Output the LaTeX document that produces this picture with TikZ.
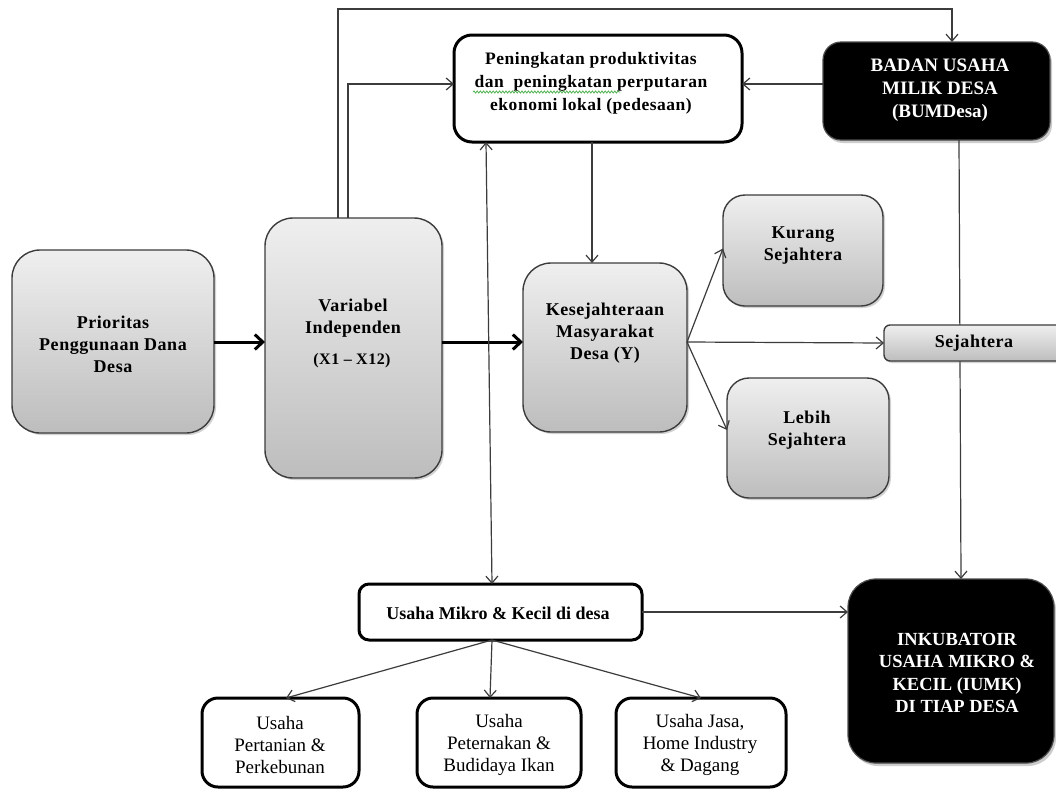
\documentclass[tikz,border=0pt]{standalone}
\usepackage{fontspec}
\setmainfont{Liberation Serif}
\newfontfamily\lsbf[LetterSpace=3,Ligatures=TeX]{Liberation Serif}
\usetikzlibrary{arrows.meta,shadows,decorations.pathmorphing,calc}
\definecolor{lg}{HTML}{3C3C3C}
\definecolor{gtop}{HTML}{EFEFEF}
\definecolor{gbot}{HTML}{BDBDBD}
\definecolor{spell}{HTML}{5CB85C}
\tikzset{
  base/.style={inner sep=0pt, outer sep=0pt},
  gbox/.style={base, draw=lg, line width=1.4pt, top color=gtop, bottom color=gbot,
     drop shadow={shadow xshift=2pt, shadow yshift=-2pt, opacity=0.35}},
  wbox/.style={base, draw=black, line width=3pt, fill=white},
  kbox/.style={base, draw=gray!60!black, line width=1.2pt, fill=black,
     drop shadow={shadow xshift=2pt, shadow yshift=-3pt, opacity=0.4}},
  btxt/.style={align=center, inner sep=0pt, font=\lsbf\bfseries\fontsize{18}{22}\selectfont},
  wtxt/.style={align=center, inner sep=0pt, text=white, font=\bfseries\fontsize{18.5}{22.5}\selectfont},
  rtxt/.style={align=center, inner sep=0pt, font=\fontsize{19}{22}\selectfont},
  conn/.style={draw=lg, line width=1.2pt},
  arr/.style={conn, -{Straight Barb[length=7pt,width=12pt]}},
  darr/.style={conn, {Straight Barb[length=7pt,width=12pt]}-{Straight Barb[length=7pt,width=12pt]}},
  fat/.style={draw=black, line width=3pt, -{Straight Barb[length=8pt,width=15pt]}},
}
\begin{document}
\begin{tikzpicture}[x=1pt,y=-1pt]
\useasboundingbox (0,0) rectangle (1056,790);
\fill[white] (0,0) rectangle (1056,790);
% helper coordinates
\coordinate (ymid) at (0,342);
\coordinate (top1) at (338,9);
\coordinate (top2) at (348,84);
\coordinate (yleb) at (0,430);
% boxes
\node[gbox, rounded corners=28pt, minimum width=202, minimum height=183] (pri) at (113,341.5) {};
\node[gbox, rounded corners=28pt, minimum width=177, minimum height=260] (var) at (353.5,348) {};
\node[gbox, rounded corners=28pt, minimum width=164, minimum height=169] (kes) at (605,347.5) {};
\node[gbox, rounded corners=22pt, minimum width=160, minimum height=111] (kur) at (803,250.5) {};
\node[gbox, rounded corners=22pt, minimum width=162, minimum height=120] (leb) at (808,438) {};
\node[wbox, rounded corners=18pt, minimum width=288, minimum height=107] (pen) at (598,88.5) {};
\node[kbox, rounded corners=18pt, minimum width=227, minimum height=98] (bum) at (936.5,91) {};
\node[wbox, rounded corners=10pt, minimum width=283, minimum height=56] (umk) at (500.5,612) {};
\node[kbox, rounded corners=28pt, minimum width=206, minimum height=184] (ink) at (951,671) {};
\node[wbox, rounded corners=16pt, minimum width=157, minimum height=89] (per) at (280.5,742.5) {};
\node[wbox, rounded corners=16pt, minimum width=164, minimum height=89] (pet) at (499,742.5) {};
\node[wbox, rounded corners=16pt, minimum width=170, minimum height=89] (jas) at (701,742.5) {};
% line behind Sejahtera
\draw[arr] ([xshift=22.5pt]bum.south) -- ([xshift=10pt]ink.north);
\node[gbox, rounded corners=6pt, minimum width=182, minimum height=36] (sej) at (975,343) {};
% texts
\node[btxt] (tpri) at (113,344) {Prioritas\\Penggunaan Dana\\Desa};
\node[btxt] (tvar) at (353,318) {Variabel\\Independen};
\node[btxt, font=\lsbf\bfseries\fontsize{16}{20}\selectfont] (tvarx) at (352,361) {(X1 – X12)};
\node[btxt] (tkes) at (605,333) {Kesejahteraan\\Masyarakat\\Desa (Y)};
\node[btxt] (tkur) at (803,246) {Kurang\\Sejahtera};
\node[btxt] (tleb) at (807,430) {Lebih\\Sejahtera};
\node[btxt] (tsej) at (974,343) {Sejahtera};
\node[btxt, font=\lsbf\bfseries\fontsize{17.5}{23}\selectfont] (tpen) at (591,83) {Peningkatan produktivitas\\dan\ \ peningkatan perputaran\\ekonomi lokal (pedesaan)};
\draw[spell, line width=0.9pt, decorate, decoration={snake, amplitude=1pt, segment length=3.2pt}] (473,92) -- (620,92);
\node[wtxt, font=\bfseries\fontsize{19}{23}\selectfont] (tbum) at (940,90) {BADAN USAHA\\MILIK DESA\\(BUMDesa)};
\node[wtxt] (tink) at (957,673) {INKUBATOIR\\USAHA MIKRO \&\\KECIL (IUMK)\\DI TIAP DESA};
\node[btxt, font=\bfseries\fontsize{18}{22}\selectfont] (tumk) at (498,613) {Usaha Mikro \& Kecil di desa};
\node[rtxt] (tper) at (280,745) {Usaha\\Pertanian \&\\Perkebunan};
\node[rtxt] (tpet) at (499,745) {Usaha\\Peternakan \&\\Budidaya Ikan};
\node[rtxt] (tjas) at (700,745) {Usaha Jasa,\\Home Industry\\\& Dagang};
% connectors
\draw[fat] (pri.east |- ymid) -- (var.west |- ymid);
\draw[fat] (var.east |- ymid) -- (kes.west |- ymid);
\draw[arr] (var.north -| top1) -- (top1) -| ([xshift=15.5pt]bum.north);
\draw[arr] (var.north -| top2) |- (pen.west |- top2);
\draw[arr] (bum.west |- top2) -- (pen.east |- top2);
\draw[arr] ([xshift=-6pt]pen.south) -- ([xshift=-6pt]pen.south |- kes.north);
\draw[darr] ([xshift=-112pt]pen.south) -- ([xshift=-8.5pt]umk.north);
\draw[arr] (kes.east |- ymid) -- ([yshift=2pt]kur.west);
\draw[arr] (kes.east |- ymid) -- (sej.west);
\draw[arr] (kes.east |- ymid) -- (leb.west |- yleb);
\draw[arr] (umk.east) -- (umk.east -| ink.west);
\draw[arr] ([xshift=-8.5pt]umk.south) -- ([xshift=5.5pt]per.north);
\draw[arr] ([xshift=-8.5pt]umk.south) -- ([xshift=-9pt]pet.north);
\draw[arr] ([xshift=-8.5pt]umk.south) -- (jas.north);
\end{tikzpicture}
\end{document}
